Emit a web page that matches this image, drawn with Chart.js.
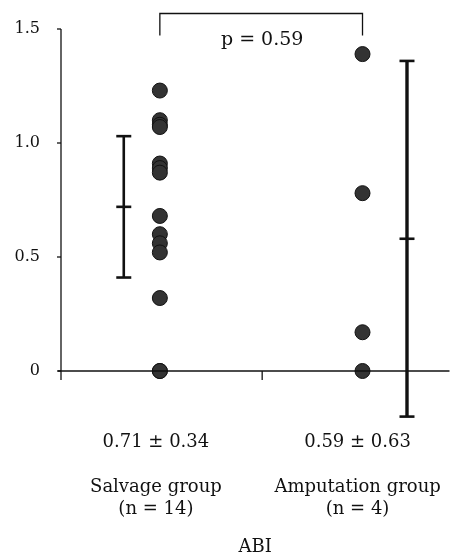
<!DOCTYPE html>
<html>
<head>
<meta charset="utf-8">
<script src="https://cdn.jsdelivr.net/npm/chart.js@4.4.1/dist/chart.umd.min.js"></script>
<style>
  html, body { margin: 0; padding: 0; background: #ffffff; }
  #wrap { width: 458px; height: 559px; position: relative; }
</style>
</head>
<body>
<div id="wrap"><canvas id="c" width="458" height="559"></canvas></div>
<script>
// ---- data ----
const groupNames = ['Salvage group', 'Amputation group'];
const groupCounts = ['(n = 14)', '(n = 4)'];
const groupSummaries = ['0.71 ± 0.34', '0.59 ± 0.63'];
const salvageABI = [1.23, 1.10, 1.08, 1.07, 0.91, 0.89, 0.87, 0.68, 0.60, 0.56, 0.52, 0.32, 0, 0];
const amputationABI = [1.39, 0.78, 0.17, 0];
const barMeans = [0.72, 0.58];
const barLows = [0.41, -0.20];
const barHighs = [1.03, 1.36];
const yTickValues = [0, 0.5, 1.0, 1.5];
const yTickLabels = ['0', '0.5', '1.0', '1.5'];
const pValueText = 'p = 0.59';
const axisTitleText = 'ABI';

// ---- layout (positions on the x scale) ----
const DOT_X = [1.0, 3.05];
const BAR_X = [0.635, 3.5];
const LABEL_X = [0.96, 3.0];
const MID_X = 2.035;

const INK = '#111111';
const FONT = "'DejaVu Serif', serif";

const points = salvageABI.map(v => ({x: DOT_X[0], y: v}));
const points2 = amputationABI.map(v => ({x: DOT_X[1], y: v}));

const decorations = {
  id: 'decorations',
  afterDatasetsDraw(chart) {
    const xs = chart.scales.x, ys = chart.scales.y;
    const ctx = chart.ctx;
    ctx.save();
    ctx.strokeStyle = INK;
    ctx.lineCap = 'butt';
    // y axis
    const x0 = xs.getPixelForValue(0);
    ctx.lineWidth = 1.3;
    ctx.beginPath();
    ctx.moveTo(x0, ys.getPixelForValue(1.5));
    ctx.lineTo(x0, ys.getPixelForValue(-0.04));
    ctx.stroke();
    yTickValues.forEach(v => {
      const y = ys.getPixelForValue(v);
      ctx.beginPath();
      ctx.moveTo(x0 - 4, y);
      ctx.lineTo(x0, y);
      ctx.stroke();
    });
    // x axis
    const yz = ys.getPixelForValue(0);
    ctx.beginPath();
    ctx.moveTo(x0 - 3, yz);
    ctx.lineTo(xs.getPixelForValue(3.93), yz);
    ctx.stroke();
    const xm = xs.getPixelForValue(MID_X);
    ctx.beginPath();
    ctx.moveTo(xm, yz);
    ctx.lineTo(xm, ys.getPixelForValue(-0.04));
    ctx.stroke();
    // error bars
    barMeans.forEach((m, i) => {
      const bx = xs.getPixelForValue(BAR_X[i]);
      const yh = ys.getPixelForValue(barHighs[i]);
      const yl = ys.getPixelForValue(barLows[i]);
      const ym = ys.getPixelForValue(m);
      ctx.lineWidth = i === 0 ? 2.6 : 3.4;
      ctx.beginPath();
      ctx.moveTo(bx, yh); ctx.lineTo(bx, yl);
      ctx.stroke();
      ctx.lineWidth = 2.6;
      [yh, ym, yl].forEach(y => {
        ctx.beginPath();
        ctx.moveTo(bx - 7.5, y); ctx.lineTo(bx + 7.5, y);
        ctx.stroke();
      });
    });
    // comparison bracket
    const bl = xs.getPixelForValue(DOT_X[0]);
    const br = xs.getPixelForValue(DOT_X[1]);
    const bt = ys.getPixelForValue(1.568);
    const bb = ys.getPixelForValue(1.472);
    ctx.lineWidth = 1.3;
    ctx.beginPath();
    ctx.moveTo(bl, bb); ctx.lineTo(bl, bt); ctx.lineTo(br, bt); ctx.lineTo(br, bb);
    ctx.stroke();
    ctx.fillStyle = INK;
    ctx.font = '19px ' + FONT;
    ctx.textAlign = 'center';
    ctx.textBaseline = 'middle';
    ctx.fillText(pValueText, xm, ys.getPixelForValue(1.452));
    ctx.restore();
  }
};

new Chart(document.getElementById('c'), {
  type: 'scatter',
  data: {
    datasets: [
      { data: points, pointRadius: 7.5, pointHoverRadius: 7.5, backgroundColor: '#333333', borderColor: '#111', borderWidth: 1 },
      { data: points2, pointRadius: 7.5, pointHoverRadius: 7.5, backgroundColor: '#333333', borderColor: '#111', borderWidth: 1 }
    ]
  },
  options: {
    responsive: false,
    animation: false,
    events: [],
    layout: { padding: { top: 29, left: 0, right: 0, bottom: 0 } },
    plugins: { legend: { display: false }, tooltip: { enabled: false } },
    scales: {
      x: {
        type: 'linear', min: 0, max: 3.93,
        grid: { display: false, drawTicks: false },
        border: { display: false },
        afterBuildTicks(scale) { scale.ticks = LABEL_X.map(v => ({ value: v })); },
        ticks: {
          autoSkip: false, maxRotation: 0, minRotation: 0, padding: 3,
          color: INK,
          font: { family: FONT, size: 18, lineHeight: '22.5px' },
          callback(value, index) {
            return [groupSummaries[index], '', groupNames[index], groupCounts[index]];
          }
        },
        title: { display: true, text: axisTitleText, color: INK, font: { family: FONT, size: 18, lineHeight: 1.2 }, padding: { top: 0, bottom: 1 } },
        afterFit(scale) { scale.height = 131; scale.paddingLeft = 0; scale.paddingRight = 0; }
      },
      y: {
        min: -0.25, max: 1.5,
        grid: { display: false, drawTicks: false },
        border: { display: false },
        afterBuildTicks(scale) { scale.ticks = yTickValues.map(v => ({ value: v })); },
        ticks: {
          padding: 21, color: INK,
          font: { family: FONT, size: 16 },
          callback(value, index) { return yTickLabels[index]; }
        },
        afterFit(scale) { scale.width = 61; scale.paddingTop = 0; scale.paddingBottom = 0; }
      }
    }
  },
  plugins: [decorations]
});
</script>
</body>
</html>
